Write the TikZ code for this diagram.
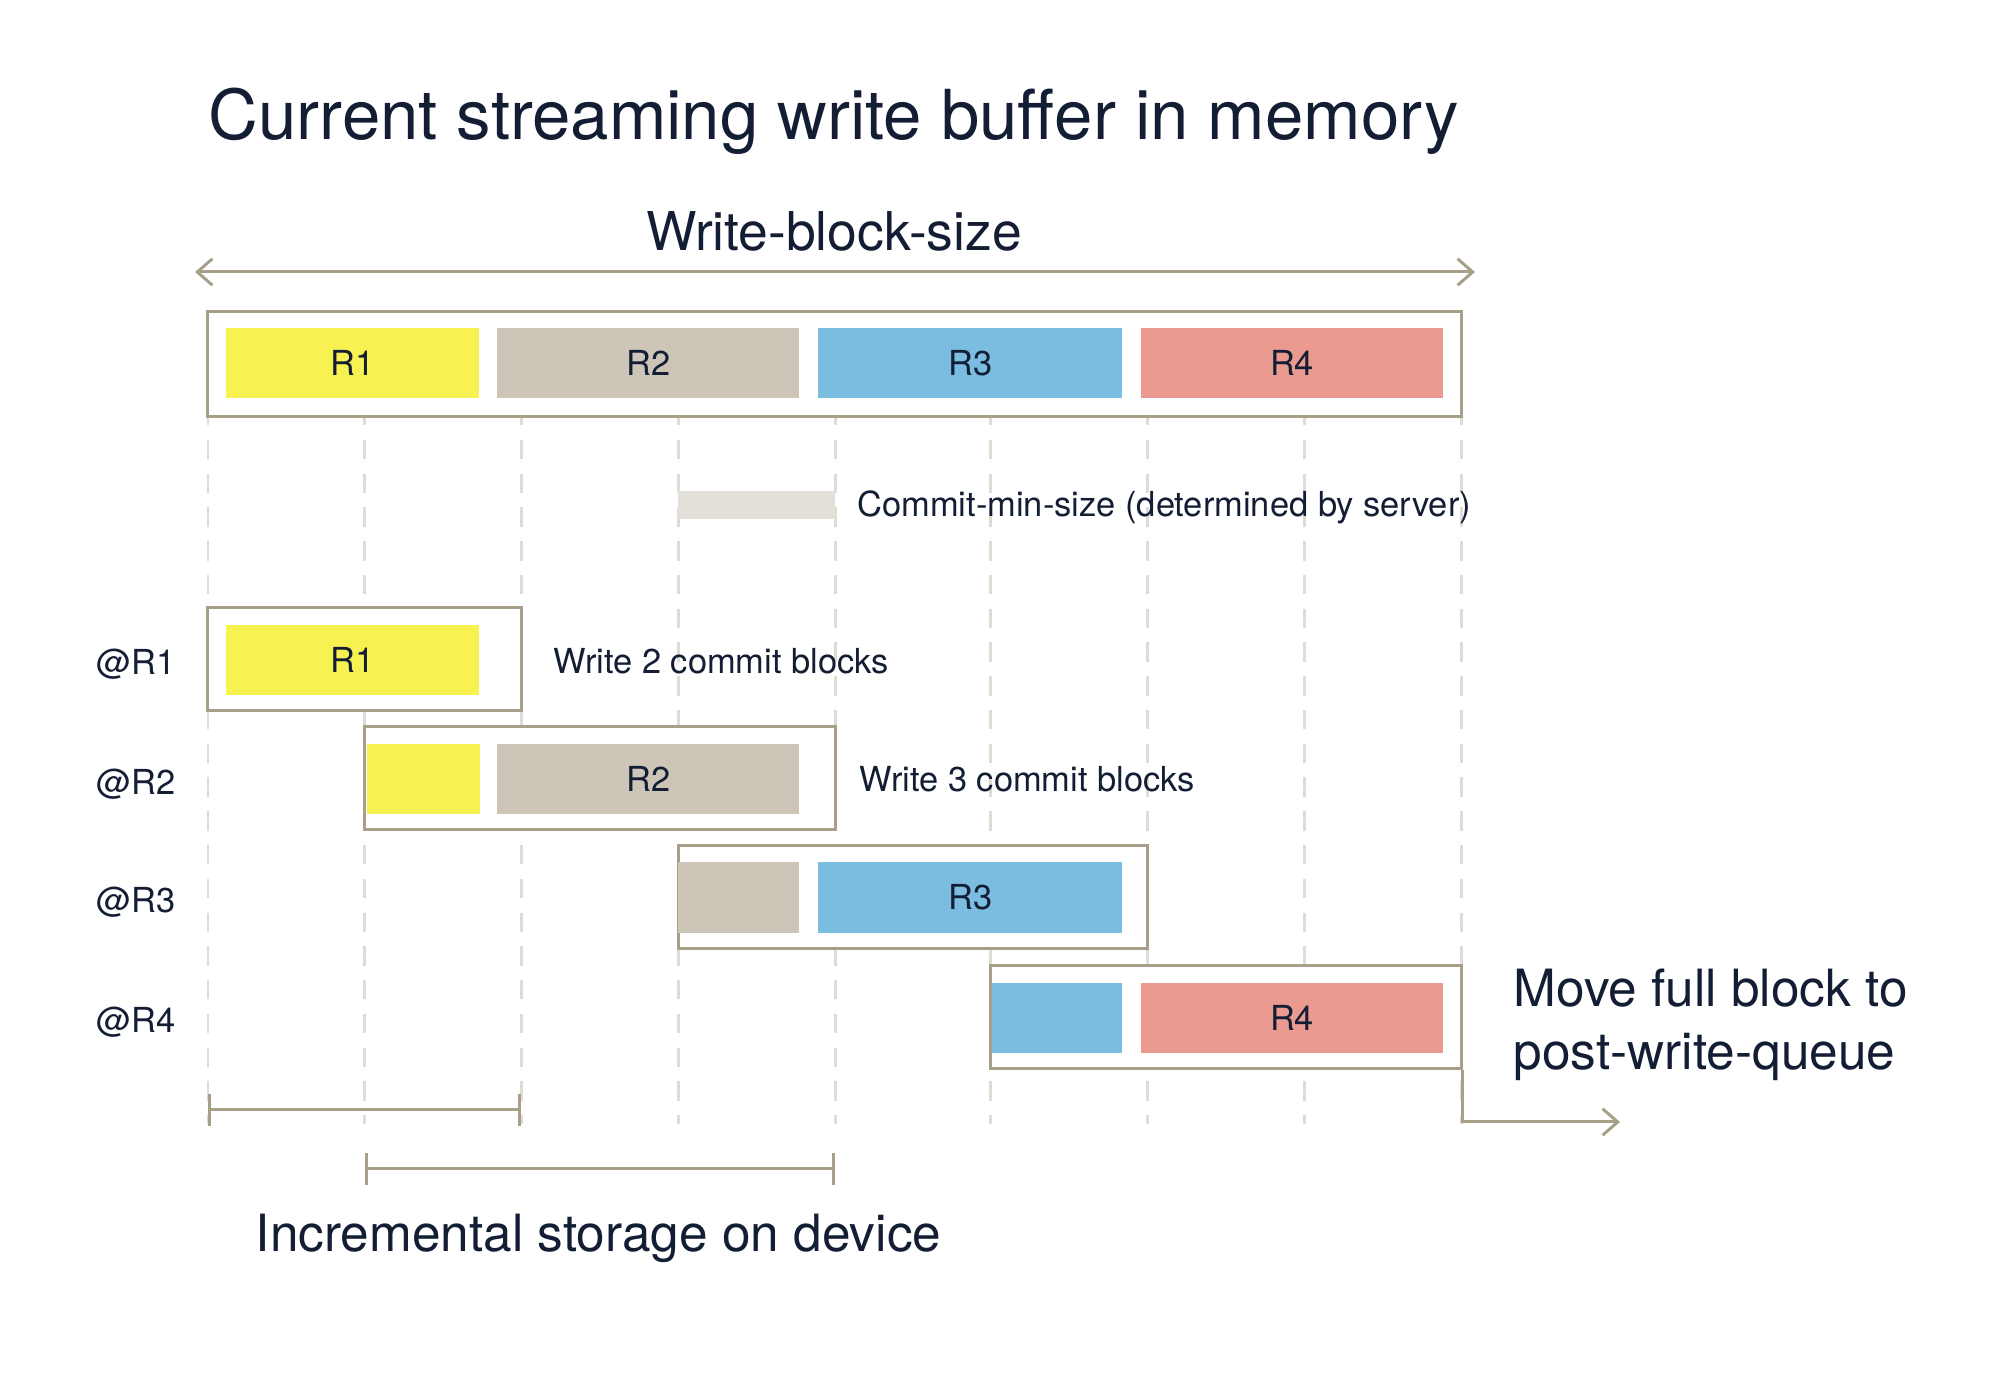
\documentclass[tikz,border=0pt]{standalone}
\usepackage{fontspec}
\setmainfont{TeX Gyre Heros}
\usetikzlibrary{arrows.meta}

\definecolor{ink}{HTML}{131E35}
\definecolor{linec}{HTML}{A89F88}
\definecolor{gridc}{HTML}{DFDCD4}
\definecolor{minc}{HTML}{E3E0D9}
\definecolor{rone}{HTML}{F7F251}
\definecolor{rtwo}{HTML}{CCC5B8}
\definecolor{rthree}{HTML}{7BBDE0}
\definecolor{rfour}{HTML}{EA9A8F}

\begin{document}
\begin{tikzpicture}[
    x=0.01cm, y=-0.01cm,
    >={Straight Barb[length=4.3pt, width=7.5pt]},
    frame/.style={rectangle, draw=linec, line width=0.85pt, fill=white, minimum height=1.03cm, inner sep=0pt},
    blk/.style={rectangle, minimum height=0.70cm, inner sep=0pt, text=ink, font=\fontsize{9.8}{12}\selectfont},
    guide/.style={draw=gridc, line width=0.85pt, dash pattern=on 5.5pt off 4.1pt, dash phase=2.8pt},
    note/.style={inner sep=0pt, text=ink, font=\fontsize{9.8}{12}\selectfont},
    head/.style={inner sep=0pt, text=ink, font=\fontsize{14.6}{18}\selectfont},
    span/.style={{Bar[width=9pt]}-{Bar[width=9pt]}, draw=linec, line width=0.85pt}
]
    \useasboundingbox (0,0) rectangle (1999,1374);

    \node[inner sep=0pt, text=ink, font=\fontsize{19.6}{24}\selectfont, anchor=base west] (title) at (208,140) {Current streaming write buffer in memory};

    \node[head, font=\fontsize{15.2}{18}\selectfont, anchor=base] (wbs) at (834,251) {Write-block-size};
    \coordinate (wl) at (195,272);
    \coordinate (wr) at (1475,272);
    \draw[<->, draw=linec, line width=0.85pt] (wl) -- (wr);

    % commit block boundaries
    \draw[guide] (208,416) -- (208,1124);
    \draw[guide] (364.6,416) -- (364.6,1124);
    \draw[guide] (521.4,416) -- (521.4,1124);
    \draw[guide] (678.2,416) -- (678.2,1124);
    \draw[guide] (835,416) -- (835,1124);
    \draw[guide] (990.6,416) -- (990.6,1124);
    \draw[guide] (1147.4,416) -- (1147.4,1124);
    \draw[guide] (1304.2,416) -- (1304.2,1124);
    \draw[guide] (1461,416) -- (1461,1124);

    \node[frame, minimum width=12.53cm, minimum height=1.04cm] (buf) at (834.5,364) {};
    \node[blk, fill=rone, minimum width=2.537cm] (b1) at (352.5,363.3) {R1};
    \node[blk, fill=rtwo, minimum width=3.02cm] (b2) at (648.3,363.3) {R2};
    \node[blk, fill=rthree, minimum width=3.034cm] (b3) at (970.2,363.3) {R3};
    \node[blk, fill=rfour, minimum width=3.022cm] (b4) at (1292.1,363.3) {R4};

    \node[rectangle, fill=minc, minimum width=1.568cm, minimum height=0.28cm, inner sep=0pt] (cmin) at (756.6,504.8) {};
    \node[note, anchor=base west] (cmintxt) at (856.7,517) {Commit-min-size (determined by server)};

    % @R1
    \node[frame, minimum width=3.134cm] (f1) at (364.7,659) {};
    \node[blk, fill=rone, minimum width=2.537cm] (f1a) at (352.5,659.7) {R1};
    \node[note, anchor=base east] (at1) at (176,675) {@R1};
    \node[note, anchor=base west] (w1) at (553,673.5) {Write 2 commit blocks};

    % @R2
    \node[frame, minimum width=4.704cm] (f2) at (599.8,778.4) {};
    \node[blk, fill=rone, minimum width=1.13cm] (f2a) at (423.2,779) {};
    \node[blk, fill=rtwo, minimum width=3.02cm] (f2b) at (648.3,779) {R2};
    \node[note, anchor=base east] (at2) at (176,794.5) {@R2};
    \node[note, anchor=base west] (w2) at (859,792) {Write 3 commit blocks};

    % @R3
    \node[frame, minimum width=4.692cm] (f3) at (912.8,896.9) {};
    \node[blk, fill=rtwo, minimum width=1.212cm] (f3a) at (738.8,897.5) {};
    \node[blk, fill=rthree, minimum width=3.034cm] (f3b) at (970.2,897.5) {R3};
    \node[note, anchor=base east] (at3) at (176,913) {@R3};

    % @R4
    \node[frame, minimum width=4.704cm] (f4) at (1225.8,1016.7) {};
    \node[blk, fill=rthree, minimum width=1.30cm] (f4a) at (1057,1018) {};
    \node[blk, fill=rfour, minimum width=3.022cm] (f4b) at (1292.1,1018) {R4};
    \node[note, anchor=base east] (at4) at (176,1033) {@R4};

    \coordinate (qend) at (1620,1122);
    \draw[->, draw=linec, line width=0.85pt] (f4.south east) |- (qend);
    \node[head, anchor=base west] (move1) at (1513,1007) {Move full block to};
    \node[head, anchor=base west] (move2) at (1513,1070) {post-write-queue};

    \coordinate (s1a) at (208,1110);
    \coordinate (s1b) at (521.4,1110);
    \draw[span] (s1a) -- (s1b);
    \coordinate (s2a) at (364.6,1169);
    \coordinate (s2b) at (835,1169);
    \draw[span] (s2a) -- (s2b);
    \node[head, anchor=base] (inc) at (598.5,1252) {Incremental storage on device};
\end{tikzpicture}
\end{document}
